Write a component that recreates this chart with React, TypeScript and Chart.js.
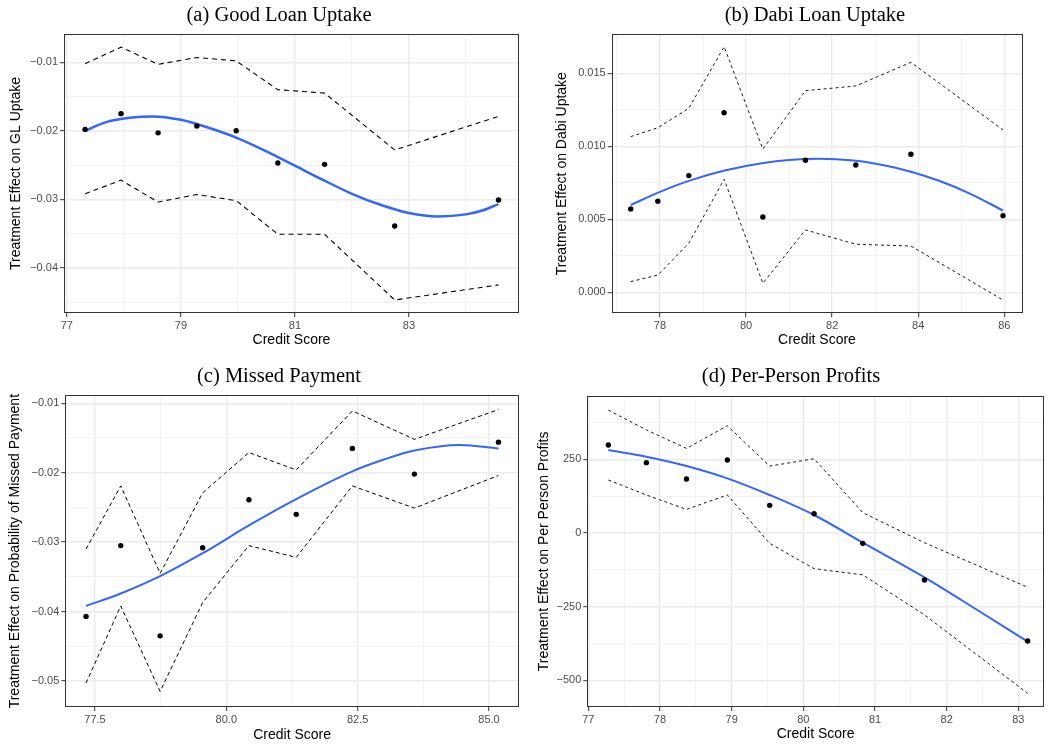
import React, { useEffect, useRef } from "react";
import { Chart, registerables } from "chart.js";

Chart.register(...registerables);

// ---------- Panel (a) Good Loan Uptake ----------
const aScore = [77.32, 77.95, 78.6, 79.28, 79.97, 80.7, 81.52, 82.75, 84.57];
const aEffect = [-0.0198, -0.0175, -0.0203, -0.0193, -0.02, -0.0247, -0.0249, -0.0339, -0.0301];
const aUpper = [-0.0102, -0.0078, -0.0103, -0.0093, -0.0098, -0.014, -0.0145, -0.0228, -0.0179];
const aLower = [-0.0292, -0.0272, -0.0304, -0.0293, -0.0302, -0.0351, -0.0351, -0.0447, -0.0425];
const aFitX = [77.32, 77.7, 78.1, 78.5, 79.0, 79.5, 80.0, 80.5, 81.0, 81.5, 82.0, 82.5, 83.0, 83.5, 84.0, 84.3, 84.57];
const aFitY = [-0.02, -0.0187, -0.0181, -0.0179, -0.0184, -0.0196, -0.0211, -0.023, -0.0251, -0.0272, -0.0292, -0.0308, -0.032, -0.0325, -0.0322, -0.0316, -0.0307];
const aXMajor = [77, 79, 81, 83];
const aXLabels = ["77", "79", "81", "83"];
const aXMinor = [78, 80, 82, 84];
const aYMajor = [-0.04, -0.03, -0.02, -0.01];
const aYLabels = ["\u22120.04", "\u22120.03", "\u22120.02", "\u22120.01"];
const aYMinor = [-0.045, -0.035, -0.025, -0.015];

// ---------- Panel (b) Dabi Loan Uptake ----------
const bScore = [77.32, 77.95, 78.67, 79.49, 80.39, 81.38, 82.55, 83.83, 85.97];
const bEffect = [0.00571, 0.00623, 0.00799, 0.0123, 0.00516, 0.00904, 0.00872, 0.00945, 0.00525];
const bUpper = [0.01066, 0.01127, 0.0126, 0.01682, 0.00981, 0.01381, 0.01413, 0.01575, 0.01112];
const bLower = [0.00073, 0.00118, 0.00336, 0.00774, 0.00062, 0.00427, 0.00329, 0.00317, -0.00053];
const bFitX = [77.32, 78.0, 78.67, 79.5, 80.4, 81.0, 81.7, 82.5, 83.2, 83.83, 84.5, 85.2, 85.97];
const bFitY = [0.00598, 0.00688, 0.00763, 0.00834, 0.00886, 0.00906, 0.00914, 0.00902, 0.0087, 0.00826, 0.00762, 0.00676, 0.0056];
const bXMajor = [78, 80, 82, 84, 86];
const bXLabels = ["78", "80", "82", "84", "86"];
const bXMinor = [77, 79, 81, 83, 85];
const bYMajor = [0, 0.005, 0.01, 0.015];
const bYLabels = ["0.000", "0.005", "0.010", "0.015"];
const bYMinor = [0.0025, 0.0075, 0.0125];

// ---------- Panel (c) Missed Payment ----------
const cScore = [77.33, 77.99, 78.74, 79.55, 80.43, 81.33, 82.4, 83.58, 85.18];
const cEffect = [-0.0407, -0.0305, -0.0435, -0.0308, -0.0239, -0.026, -0.0165, -0.0202, -0.0156];
const cUpper = [-0.031, -0.0219, -0.0345, -0.0229, -0.0171, -0.0196, -0.0111, -0.0152, -0.0109];
const cLower = [-0.0503, -0.0392, -0.0515, -0.0387, -0.0305, -0.0322, -0.0219, -0.0251, -0.0204];
const cFitX = [77.33, 77.99, 78.74, 79.55, 80.43, 81.33, 82.4, 83.0, 83.58, 84.45, 85.18];
const cFitY = [-0.0392, -0.0374, -0.0349, -0.0316, -0.0276, -0.0238, -0.0198, -0.0181, -0.0168, -0.016, -0.0165];
const cXMajor = [77.5, 80, 82.5, 85];
const cXLabels = ["77.5", "80.0", "82.5", "85.0"];
const cXMinor = [78.75, 81.25, 83.75];
const cYMajor = [-0.05, -0.04, -0.03, -0.02, -0.01];
const cYLabels = ["\u22120.05", "\u22120.04", "\u22120.03", "\u22120.02", "\u22120.01"];
const cYMinor = [-0.045, -0.035, -0.025, -0.015];

// ---------- Panel (d) Per-Person Profits ----------
const dScore = [77.28, 77.81, 78.37, 78.94, 79.53, 80.15, 80.83, 81.69, 83.13];
const dEffect = [298.6, 238.7, 183.3, 247.7, 93.9, 65.6, -35.1, -159.5, -366.5];
const dUpper = [417, 350, 287, 364, 227, 252, 69, -33, -184];
const dLower = [180, 129, 80, 129, -35, -121, -142, -278, -544];
const dFitX = [77.28, 77.81, 78.37, 78.94, 79.53, 80.15, 80.83, 81.69, 82.4, 83.13];
const dFitY = [281.7, 259, 227.4, 185.5, 129, 61.1, -32.8, -150.5, -257, -368.8];
const dXMajor = [77, 78, 79, 80, 81, 82, 83];
const dXLabels = ["77", "78", "79", "80", "81", "82", "83"];
const dXMinor = [77.5, 78.5, 79.5, 80.5, 81.5, 82.5];
const dYMajor = [-500, -250, 0, 250];
const dYLabels = ["\u2212500", "\u2212250", "0", "250"];
const dYMinor = [-375, -125, 125, 375];

type Spec = {
  title: string;
  titleX: number;
  titleY: number;
  yTitle: string;
  score: number[];
  effect: number[];
  upper: number[];
  lower: number[];
  fitX: number[];
  fitY: number[];
  xMajor: number[];
  xLabels: string[];
  xMinor: number[];
  yMajor: number[];
  yLabels: string[];
  yMinor: number[];
  xMin: number;
  xMax: number;
  yMin: number;
  yMax: number;
  left: number;
  top: number;
  width: number;
  height: number;
  yAxisW: number;
  xAxisH: number;
  padTop: number;
  padRight: number;
  yTitlePad: number;
  xTitlePad: number;
  dash: number[];
  dashW: number;
  fitW: number;
};

const SANS = "'Liberation Sans', Arial, sans-serif";

const panels: Spec[] = [
  {
    title: "(a) Good Loan Uptake", titleX: 279, titleY: 16,
    yTitle: "Treatment Effect on GL Uptake",
    score: aScore, effect: aEffect, upper: aUpper, lower: aLower, fitX: aFitX, fitY: aFitY,
    xMajor: aXMajor, xLabels: aXLabels, xMinor: aXMinor, yMajor: aYMajor, yLabels: aYLabels, yMinor: aYMinor,
    xMin: 76.95, xMax: 84.93, yMin: -0.0466, yMax: -0.00587,
    left: 0, top: 0, width: 525, height: 360,
    yAxisW: 64, xAxisH: 47, padTop: 34, padRight: 6, yTitlePad: 7.6, xTitlePad: 11.3,
    dash: [5, 4], dashW: 1.1, fitW: 2.5,
  },
  {
    title: "(b) Dabi Loan Uptake", titleX: 290, titleY: 16,
    yTitle: "Treatment Effect on Dabi Uptake",
    score: bScore, effect: bEffect, upper: bUpper, lower: bLower, fitX: bFitX, fitY: bFitY,
    xMajor: bXMajor, xLabels: bXLabels, xMinor: bXMinor, yMajor: bYMajor, yLabels: bYLabels, yMinor: bYMinor,
    xMin: 76.878, xMax: 86.418, yMin: -0.00144, yMax: 0.01769,
    left: 525, top: 0, width: 526, height: 360,
    yAxisW: 86.7, xAxisH: 46.7, padTop: 34, padRight: 28.7, yTitlePad: 28.9, xTitlePad: 11.3,
    dash: [3, 3], dashW: 0.9, fitW: 2,
  },
  {
    title: "(c) Missed Payment", titleX: 279, titleY: 16.7,
    yTitle: "Treatment Effect on Probability of Missed Payment",
    score: cScore, effect: cEffect, upper: cUpper, lower: cLower, fitX: cFitX, fitY: cFitY,
    xMajor: cXMajor, xLabels: cXLabels, xMinor: cXMinor, yMajor: cYMajor, yLabels: cYLabels, yMinor: cYMinor,
    xMin: 76.935, xMax: 85.571, yMin: -0.05375, yMax: -0.00885,
    left: 0, top: 360, width: 525, height: 385,
    yAxisW: 65.3, xAxisH: 38, padTop: 35.3, padRight: 6, yTitlePad: 6.6, xTitlePad: 1.9,
    dash: [4, 3], dashW: 1, fitW: 2,
  },
  {
    title: "(d) Per-Person Profits", titleX: 266, titleY: 16.7,
    yTitle: "Treatment Effect on Per Person Profits",
    score: dScore, effect: dEffect, upper: dUpper, lower: dLower, fitX: dFitX, fitY: dFitY,
    xMajor: dXMajor, xLabels: dXLabels, xMinor: dXMinor, yMajor: dYMajor, yLabels: dYLabels, yMinor: dYMinor,
    xMin: 76.986, xMax: 83.358, yMin: -590.5, yMax: 466,
    left: 525, top: 360, width: 526, height: 385,
    yAxisW: 62.3, xAxisH: 38, padTop: 35.7, padRight: 7, yTitlePad: 10.6, xTitlePad: 2.6,
    dash: [3, 3], dashW: 0.9, fitW: 2,
  },
];

const isIn = (arr: number[], v: number) => arr.some((m) => Math.abs(m - v) < 1e-9);

const panelPlugin = {
  id: "panelDecor",
  afterDraw(chart: any, _args: any, opts: any) {
    const { ctx, chartArea } = chart;
    const { left, right, top, bottom } = chartArea;
    ctx.save();
    ctx.strokeStyle = "#333333";
    ctx.lineWidth = 1;
    ctx.strokeRect(Math.round(left) + 0.5, Math.round(top) + 0.5, Math.round(right - left) - 1, Math.round(bottom - top) - 1);
    ctx.fillStyle = "#000000";
    ctx.font = "20.5px 'Liberation Serif', 'Times New Roman', serif";
    ctx.textAlign = "center";
    ctx.textBaseline = "middle";
    ctx.fillText(opts.text, opts.x, opts.y);
    ctx.restore();
  },
};

function axisOptions(
  major: number[],
  labels: string[],
  minor: number[],
  min: number,
  max: number,
  horizontal: boolean,
  size: number,
  titleText: string,
  titlePad: number
) {
  return {
    type: "linear",
    min,
    max,
    afterBuildTicks: (scale: any) => {
      const all = [...major, ...minor].sort((p, q) => p - q);
      scale.ticks = all.map((v) => ({ value: v }));
    },
    afterFit: (scale: any) => {
      if (horizontal) scale.height = size;
      else scale.width = size;
    },
    border: { display: false },
    grid: {
      drawOnChartArea: true,
      drawTicks: true,
      tickLength: 4,
      color: (c: any) => (c.tick && isIn(major, c.tick.value) ? "#ebebeb" : "#f2f2f2"),
      lineWidth: (c: any) => (c.tick && isIn(major, c.tick.value) ? 1.4 : 1),
      tickColor: (c: any) => (c.tick && isIn(major, c.tick.value) ? "#333333" : "rgba(0,0,0,0)"),
      tickWidth: 1,
    },
    ticks: {
      autoSkip: false,
      maxRotation: 0,
      minRotation: 0,
      padding: 2,
      color: "#4d4d4d",
      font: { family: SANS, size: 11 },
      callback: (v: any) => {
        const i = major.findIndex((m) => Math.abs(m - Number(v)) < 1e-9);
        return i >= 0 ? labels[i] : "";
      },
    },
    title: {
      display: true,
      text: titleText,
      color: "#000000",
      font: { family: SANS, size: 14 },
      padding: horizontal ? { top: 0, bottom: titlePad } : { top: titlePad, bottom: 0 },
    },
  };
}

function buildConfig(s: Spec): any {
  const pts = (xs: number[], ys: number[]) => xs.map((x, i) => ({ x, y: ys[i] }));
  return {
    type: "line",
    data: {
      datasets: [
        {
          type: "scatter",
          label: "Estimate",
          data: pts(s.score, s.effect),
          backgroundColor: "#000000",
          borderWidth: 0,
          pointRadius: 2.7,
          order: 0,
        },
        {
          type: "line",
          label: "Fit",
          data: pts(s.fitX, s.fitY),
          borderColor: "#3366FF",
          borderWidth: s.fitW,
          pointRadius: 0,
          fill: false,
          cubicInterpolationMode: "monotone",
          order: 1,
        },
        {
          type: "line",
          label: "Upper",
          data: pts(s.score, s.upper),
          borderColor: "#000000",
          borderWidth: s.dashW,
          borderDash: s.dash,
          pointRadius: 0,
          fill: false,
          tension: 0,
          order: 2,
        },
        {
          type: "line",
          label: "Lower",
          data: pts(s.score, s.lower),
          borderColor: "#000000",
          borderWidth: s.dashW,
          borderDash: s.dash,
          pointRadius: 0,
          fill: false,
          tension: 0,
          order: 2,
        },
      ],
    },
    options: {
      responsive: false,
      maintainAspectRatio: false,
      animation: false,
      events: [],
      devicePixelRatio: 1,
      layout: { padding: { left: 0, right: s.padRight, top: s.padTop, bottom: 0 } },
      plugins: {
        legend: { display: false },
        tooltip: { enabled: false },
        title: { display: false },
        panelDecor: { text: s.title, x: s.titleX, y: s.titleY },
      },
      scales: {
        x: axisOptions(s.xMajor, s.xLabels, s.xMinor, s.xMin, s.xMax, true, s.xAxisH, "Credit Score", s.xTitlePad),
        y: axisOptions(s.yMajor, s.yLabels, s.yMinor, s.yMin, s.yMax, false, s.yAxisW, s.yTitle, s.yTitlePad),
      },
    },
    plugins: [panelPlugin],
  };
}

function Panel({ spec }: { spec: Spec }) {
  const ref = useRef<HTMLCanvasElement | null>(null);
  useEffect(() => {
    if (!ref.current) return;
    const chart = new Chart(ref.current, buildConfig(spec));
    return () => chart.destroy();
  }, [spec]);
  return (
    <canvas
      ref={ref}
      width={spec.width}
      height={spec.height}
      style={{ position: "absolute", left: spec.left, top: spec.top, width: spec.width, height: spec.height }}
    />
  );
}

export default function App() {
  return (
    <div style={{ position: "absolute", left: 0, top: 0, width: 1051, height: 745, background: "#ffffff", overflow: "hidden" }}>
      {panels.map((p) => (
        <Panel key={p.title} spec={p} />
      ))}
    </div>
  );
}
